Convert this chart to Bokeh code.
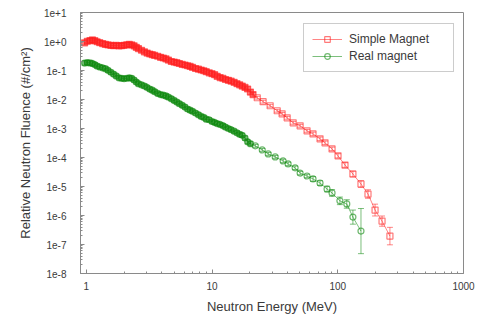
from bokeh.plotting import figure
from bokeh.models import (FixedTicker, CustomJSTickFormatter, Whisker, ColumnDataSource,
                          Legend, LegendItem, TeeHead, Range1d)
from bokeh.embed import file_html
from bokeh.resources import INLINE

# ---------------- data ----------------
red_energy = [0.97, 1.02, 1.07, 1.12, 1.17, 1.22, 1.28, 1.35, 1.42, 1.49, 1.57,
              1.65, 1.73, 1.82, 1.91, 2.00, 2.10, 2.20, 2.30, 2.40, 2.50,
              2.60, 2.75, 2.90, 3.05, 3.20, 3.35, 3.50, 3.70, 3.90, 4.10,
              4.30, 4.50, 4.75, 5.00, 5.25, 5.50, 5.80, 6.10, 6.40, 6.70,
              7.00, 7.40, 7.80, 8.20, 8.60, 9.00, 9.50, 10.0, 10.5, 11.0,
              11.6, 12.2, 12.8, 13.5, 14.2, 15.0, 15.8, 16.6, 17.4, 18.3,
              19.2, 20.2, 21.2,
              22.9, 25.5, 29.0, 33.0, 36.1, 39.6, 44.2, 50.2, 57.0, 63.6,
              72.3, 79.2, 90.1, 100.5, 114.2, 132.0, 153.0, 174.0, 198.0, 225.0,
              260.0]
red_fluence = [0.90, 1.02, 1.08, 1.13, 1.07, 0.98, 0.91, 0.85, 0.79, 0.76, 0.73,
               0.72, 0.73, 0.71, 0.72, 0.74, 0.77, 0.79, 0.76, 0.71, 0.63,
               0.57, 0.50, 0.44, 0.40, 0.37, 0.35, 0.33, 0.31, 0.285, 0.27,
               0.253, 0.229, 0.204, 0.195, 0.186, 0.174, 0.162, 0.155, 0.146, 0.138,
               0.129, 0.117, 0.111, 0.104, 0.098, 0.091, 0.083, 0.078, 0.072, 0.063,
               0.057, 0.054, 0.049, 0.046, 0.043, 0.039, 0.035, 0.032, 0.029, 0.026,
               0.023, 0.018, 0.0148,
               0.0115, 0.0084, 0.0061, 0.0041, 0.0032, 0.00234, 0.00157, 0.00124, 8.3e-4, 6.5e-4,
               4.4e-4, 3.2e-4, 1.98e-4, 1.14e-4, 5.5e-5, 2.7e-5, 1.22e-5, 5.5e-6, 1.54e-6, 6.4e-7,
               1.95e-7]
red_err = [1.18, 1.18, 1.18, 1.18, 1.18, 1.18, 1.18, 1.18, 1.18, 1.18, 1.18,
           1.18, 1.18, 1.18, 1.18, 1.18, 1.18, 1.18, 1.18, 1.18, 1.18,
           1.18, 1.18, 1.18, 1.18, 1.18, 1.18, 1.18, 1.18, 1.18, 1.18,
           1.18, 1.18, 1.18, 1.18, 1.18, 1.18, 1.18, 1.18, 1.18, 1.18,
           1.18, 1.18, 1.18, 1.18, 1.18, 1.18, 1.18, 1.18, 1.18, 1.18,
           1.18, 1.18, 1.18, 1.18, 1.18, 1.18, 1.18, 1.18, 1.18, 1.18,
           1.18, 1.18, 1.18,
           1.12, 1.12, 1.12, 1.12, 1.12, 1.12, 1.12, 1.12, 1.12, 1.15,
           1.15, 1.15, 1.15, 1.18, 1.2, 1.25, 1.3, 1.4, 1.6, 1.5,
           2.0]

green_energy = [0.97, 1.02, 1.07, 1.12, 1.17, 1.22, 1.28, 1.35, 1.42, 1.49, 1.57,
                1.65, 1.73, 1.82, 1.91, 2.00, 2.10, 2.20, 2.30, 2.40, 2.50,
                2.60, 2.75, 2.90, 3.05, 3.20, 3.35, 3.50, 3.70, 3.90, 4.10,
                4.30, 4.50, 4.75, 5.00, 5.25, 5.50, 5.80, 6.10, 6.40, 6.70,
                7.00, 7.40, 7.80, 8.20, 8.60, 9.00, 9.50, 10.0, 10.5, 11.0,
                11.6, 12.2, 12.8, 13.5, 14.2, 15.0, 15.8, 16.6, 17.4, 18.3,
                19.2, 20.2,
                22.1, 25.1, 28.0, 31.8, 36.8, 40.3, 45.8, 50.2, 57.0, 63.6,
                72.3, 82.2, 90.1, 104.0, 118.0, 132.0, 153.0]
green_fluence = [0.180, 0.188, 0.183, 0.175, 0.160, 0.143, 0.132, 0.124, 0.116, 0.101, 0.087,
                 0.075, 0.065, 0.056, 0.054, 0.052, 0.054, 0.056, 0.054, 0.047, 0.040,
                 0.035, 0.032, 0.029, 0.026, 0.023, 0.021, 0.0186, 0.0162, 0.0148, 0.0141,
                 0.0133, 0.0120, 0.0107, 0.0093, 0.0082, 0.0072, 0.0063, 0.0055, 0.0047, 0.0043,
                 0.0039, 0.0034, 0.0030, 0.0026, 0.0024, 0.0021, 0.0020, 0.00174, 0.00162, 0.00148,
                 0.00138, 0.00126, 0.00112, 0.00100, 0.00091, 0.00081, 0.00071, 0.00063, 0.00058, 0.00047,
                 0.00035, 0.00030,
                 2.52e-4, 1.83e-4, 1.33e-4, 1.05e-4, 7.6e-5, 6.0e-5, 4.4e-5, 2.9e-5, 2.3e-5, 1.82e-5,
                 1.32e-5, 8.2e-6, 6.0e-6, 3.2e-6, 2.5e-6, 8.8e-7, 2.9e-7]
green_err = [1.18, 1.18, 1.18, 1.18, 1.18, 1.18, 1.18, 1.18, 1.18, 1.18, 1.18,
             1.18, 1.18, 1.18, 1.18, 1.18, 1.18, 1.18, 1.18, 1.18, 1.18,
             1.18, 1.18, 1.18, 1.18, 1.18, 1.18, 1.18, 1.18, 1.18, 1.18,
             1.18, 1.18, 1.18, 1.18, 1.18, 1.18, 1.18, 1.18, 1.18, 1.18,
             1.18, 1.18, 1.18, 1.18, 1.18, 1.18, 1.18, 1.18, 1.18, 1.18,
             1.18, 1.18, 1.18, 1.18, 1.18, 1.18, 1.18, 1.18, 1.18, 1.18,
             1.18, 1.18,
             1.12, 1.12, 1.12, 1.12, 1.15, 1.15, 1.15, 1.15, 1.15, 1.2,
             1.2, 1.25, 1.3, 1.35, 1.4, 1.75, 6.0]

series_names = ["Simple Magnet", "Real magnet"]
y_ticks = [1e-8, 1e-7, 1e-6, 1e-5, 1e-4, 1e-3, 1e-2, 1e-1, 1e0, 1e1]
x_ticks = [1, 10, 100, 1000]

# ---------------- figure ----------------
TEXT = "#3a3a3a"
FONT = "Liberation Sans"
RED = "#ff2020"
GREEN = "#108a10"
DENSE_LIMIT = 21.5   # below this energy the reference points merge into a solid band

p = figure(width=482, height=323, x_axis_type="log", y_axis_type="log",
           x_range=Range1d(0.9, 1000), y_range=Range1d(1e-8, 10),
           output_backend="svg", toolbar_location=None,
           min_border_left=80, min_border_right=19, min_border_top=12, min_border_bottom=50)
p.grid.visible = False
p.outline_line_color = "#8a8a8a"
p.background_fill_color = "white"
p.border_fill_color = "white"


def make_source(e, v, f):
    return ColumnDataSource(dict(x=e, y=v,
                                 upper=[a * b for a, b in zip(v, f)],
                                 lower=[a / b for a, b in zip(v, f)],
                                 fa=[0.55 if a < DENSE_LIMIT else 0.0 for a in e]))


items = []
for (e, v, f, col, marker, name) in [
        (red_energy, red_fluence, red_err, RED, "square", series_names[0]),
        (green_energy, green_fluence, green_err, GREEN, "circle", series_names[1])]:
    src = make_source(e, v, f)
    w = Whisker(source=src, base="x", upper="upper", lower="lower", dimension="height",
                line_color=col, line_alpha=0.55, line_width=1,
                upper_head=TeeHead(size=6, line_color=col, line_alpha=0.55, line_width=1),
                lower_head=TeeHead(size=6, line_color=col, line_alpha=0.55, line_width=1))
    p.add_layout(w)
    lr = p.line("x", "y", source=src, line_color=col, line_alpha=0.55, line_width=1)
    sr = p.scatter("x", "y", source=src, marker=marker, size=6, fill_color=col,
                   fill_alpha="fa", line_color=col, line_alpha=0.6, line_width=1.2)
    items.append(LegendItem(label=name, renderers=[lr, sr], index=len(e) - 1))

legend = Legend(items=items, location=(223, 201), orientation="vertical",
                label_text_font=FONT, label_text_font_size="12px", label_text_color=TEXT,
                glyph_width=30, glyph_height=14, label_height=14, label_width=96,
                spacing=3, padding=8, label_standoff=7, margin=0,
                border_line_color="#9a9a9a", border_line_width=1,
                background_fill_color="white", background_fill_alpha=1.0)
p.add_layout(legend)

# axes
p.xaxis.ticker = FixedTicker(ticks=x_ticks,
                             minor_ticks=[m * d for d in (1, 10, 100) for m in range(2, 10)])
p.yaxis.ticker = FixedTicker(ticks=y_ticks,
                             minor_ticks=[m * d for d in y_ticks[:-1] for m in range(2, 10)])
p.xaxis.formatter = CustomJSTickFormatter(code="return Math.round(tick).toString();")
p.yaxis.formatter = CustomJSTickFormatter(code="""
const e = Math.round(Math.log10(tick));
return '1e' + (e >= 0 ? '+' : '-') + Math.abs(e);
""")

for ax in (p.xaxis[0], p.yaxis[0]):
    ax.axis_line_color = "#8a8a8a"
    ax.major_tick_line_color = "#8a8a8a"
    ax.minor_tick_line_color = "#8a8a8a"
    ax.major_tick_in = 4
    ax.major_tick_out = 0
    ax.minor_tick_in = 2
    ax.minor_tick_out = 0
    ax.major_label_text_font = FONT
    ax.major_label_text_font_size = "10px"
    ax.major_label_text_color = TEXT
    ax.axis_label_text_font = FONT
    ax.axis_label_text_font_style = "normal"
    ax.axis_label_text_color = TEXT

p.xaxis.axis_label = "Neutron Energy (MeV)"
p.xaxis.axis_label_text_font_size = "13px"
p.xaxis.major_label_standoff = 8
p.xaxis.axis_label_standoff = 6

p.yaxis.axis_label = "Relative Neutron Fluence (#/cm\u00b2)"
p.yaxis.axis_label_text_font_size = "13px"
p.yaxis.major_label_standoff = 14
p.yaxis.axis_label_standoff = 8

open("out.html", "w").write(file_html(p, INLINE))
